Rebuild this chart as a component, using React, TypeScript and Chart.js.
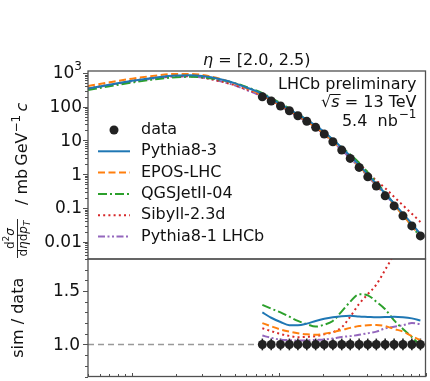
import React, { useEffect, useRef } from 'react';
import { Chart, registerables } from 'chart.js';

Chart.register(...registerables);

const W = 430;
const H = 381;
const FONT = '"DejaVu Sans", sans-serif';

// ---------- data ----------
const dataPt = [0.772, 0.887, 1.027, 1.18, 1.349, 1.551, 1.783, 2.04, 2.336, 2.685, 3.068, 3.528, 4.04, 4.62, 5.31, 6.11, 7.02, 8.07, 9.23];
const dataXsec = [198, 147.5, 105, 76, 54, 36.9, 24.5, 15.5, 9.15, 5.19, 2.94, 1.59, 0.837, 0.444, 0.229, 0.115, 0.0583, 0.0294, 0.01486];
const dataRatio = [1, 1, 1, 1, 1, 1, 1, 1, 1, 1, 1, 1, 1, 1, 1, 1, 1, 1, 1];
const dataRatioErr = [0.055, 0.055, 0.055, 0.055, 0.055, 0.055, 0.055, 0.055, 0.055, 0.055, 0.055, 0.055, 0.055, 0.055, 0.055, 0.055, 0.055, 0.055, 0.055];

const simPt = [0.05, 0.07, 0.1, 0.15, 0.2, 0.25, 0.3, 0.4, 0.5, 0.6, 0.7, 0.772, 0.887, 1.027, 1.18, 1.349, 1.551, 1.783, 2.04, 2.336, 2.685, 3.068, 3.528, 4.04, 4.62, 5.31, 6.11, 7.02, 8.07, 9.23];
const pythia83 = [345, 450, 585, 750, 840, 855, 810, 650, 500, 373, 290, 239.4, 171.5, 118.2, 83.4, 59.2, 41.0, 27.8, 17.9, 10.68, 6.11, 3.47, 1.87, 0.979, 0.518, 0.268, 0.135, 0.0681, 0.0340, 0.0169];
const eposLhc = [414, 531, 679, 855, 941, 941, 875, 670, 490, 355, 270, 221, 160.5, 111.3, 79.1, 55.5, 37.6, 24.8, 15.86, 9.49, 5.48, 3.16, 1.73, 0.919, 0.488, 0.249, 0.123, 0.0607, 0.0295, 0.01437];
const qgsjet = [314, 405, 521, 668, 748, 770, 745, 624, 500, 385, 304, 252.3, 183.1, 126.9, 89.1, 61.3, 40.8, 26.6, 17.1, 10.38, 6.32, 3.83, 2.18, 1.136, 0.578, 0.284, 0.131, 0.0621, 0.0293, 0.0137];
const sibyll = [345, 450, 585, 743, 806, 795, 729, 566, 435, 329, 257, 212.1, 154.3, 107.2, 76.4, 53.7, 36.8, 24.6, 15.78, 9.49, 5.60, 3.44, 2.04, 1.144, 0.644, 0.389, 0.213, 0.1195, 0.0676, 0.0386];
const pythia81 = [338, 437, 562, 713, 790, 795, 737, 572, 430, 315, 242, 199.4, 145.6, 102, 73.5, 52.1, 35.6, 23.7, 15.07, 8.97, 5.16, 2.95, 1.61, 0.860, 0.462, 0.245, 0.125, 0.064, 0.0328, 0.0165];

const pythia83Ratio = [1.30, 1.25, 1.21, 1.18, 1.18, 1.195, 1.22, 1.24, 1.255, 1.265, 1.268, 1.262, 1.258, 1.254, 1.256, 1.26, 1.255, 1.244, 1.225];
const eposLhcRatio = [1.20, 1.17, 1.14, 1.12, 1.105, 1.095, 1.09, 1.10, 1.115, 1.135, 1.155, 1.172, 1.18, 1.182, 1.172, 1.145, 1.12, 1.078, 1.04];
const qgsjetRatio = [1.37, 1.335, 1.30, 1.26, 1.22, 1.19, 1.167, 1.185, 1.22, 1.31, 1.40, 1.47, 1.46, 1.40, 1.33, 1.225, 1.145, 1.07, 0.99];
const sibyllRatio = [1.152, 1.125, 1.098, 1.08, 1.068, 1.072, 1.078, 1.095, 1.115, 1.16, 1.26, 1.38, 1.47, 1.56, 1.70, 1.85, 2.05, 2.3, 2.6];
const pythia81Ratio = [1.083, 1.062, 1.045, 1.04, 1.037, 1.038, 1.042, 1.046, 1.055, 1.07, 1.078, 1.09, 1.105, 1.12, 1.15, 1.165, 1.18, 1.20, 1.19];

const refLineX = [0.05, 10];
const refLineY = [1, 1];

const seriesLabels = ['Pythia8-3', 'EPOS-LHC', 'QGSJetII-04', 'Sibyll-2.3d', 'Pythia8-1 LHCb'];
const dataLabel = 'data';

const yTickValues = [0.01, 0.1, 1, 10, 100, 1000];
const yTickLabels = ['0.01', '0.1', '1', '10', '100', '10^3'];
const ratioTickValues = [1.0, 1.5];
const ratioTickLabels = ['1.0', '1.5'];

// ---------- styles ----------
const seriesColors = ['#1f77b4', '#ff7f0e', '#2ca02c', '#d62728', '#9467bd'];
const seriesDashes: number[][] = [[], [7, 3.5], [9, 3, 2, 3], [2, 3.2], [7, 2.5, 2, 2.5, 2, 2.5]];
const DATA_COLOR = '#222';
const FRAME = '#505050';

const topSeries = [pythia83, eposLhc, qgsjet, sibyll, pythia81];
const ratioSeries = [pythia83Ratio, eposLhcRatio, qgsjetRatio, sibyllRatio, pythia81Ratio];

const pts = (xs: number[], ys: number[]) => xs.map((x, i) => ({ x, y: ys[i] }));

function lineDs(i: number, xs: number[], ys: number[]) {
  return {
    label: seriesLabels[i],
    data: pts(xs, ys),
    borderColor: seriesColors[i],
    backgroundColor: seriesColors[i],
    borderDash: seriesDashes[i],
    borderWidth: 2,
    pointRadius: 0,
    fill: false,
    cubicInterpolationMode: 'monotone' as const,
  };
}

function line(ctx: CanvasRenderingContext2D, x1: number, y1: number, x2: number, y2: number) {
  ctx.beginPath();
  ctx.moveTo(x1, y1);
  ctx.lineTo(x2, y2);
  ctx.stroke();
}

function drawFrame(ctx: CanvasRenderingContext2D, a: any) {
  ctx.save();
  ctx.setLineDash([]);
  ctx.strokeStyle = FRAME;
  ctx.lineWidth = 1.3;
  ctx.strokeRect(a.left, a.top, a.right - a.left, a.bottom - a.top);
  ctx.restore();
}

const topDecor = {
  id: 'topDecor',
  afterDraw(chart: any) {
    const { ctx, chartArea: a, scales } = chart;
    const ys = scales.y;
    ctx.save();
    drawFrame(ctx, a);
    // y ticks
    ctx.strokeStyle = FRAME;
    ctx.lineWidth = 1;
    for (let e = -3; e <= 3; e++) {
      for (let m = 1; m <= 9; m++) {
        const v = m * Math.pow(10, e);
        if (v < ys.min || v > ys.max) continue;
        const py = Math.round(ys.getPixelForValue(v)) + 0.5;
        const len = m === 1 ? 5 : 3;
        line(ctx, a.left - len, py, a.left, py);
      }
    }
    // y tick labels
    ctx.fillStyle = '#111';
    ctx.textBaseline = 'middle';
    ctx.textAlign = 'right';
    const rx = a.left - 6;
    yTickValues.forEach((v, i) => {
      const py = ys.getPixelForValue(v);
      const lab = yTickLabels[i];
      if (lab.includes('^')) {
        const [b, s] = lab.split('^');
        ctx.font = `12px ${FONT}`;
        const ws = ctx.measureText(s).width;
        ctx.fillText(s, rx, py - 6);
        ctx.font = `17px ${FONT}`;
        ctx.fillText(b, rx - ws, py + 1);
      } else {
        ctx.font = `17px ${FONT}`;
        ctx.fillText(lab, rx, py + 1);
      }
    });

    // title
    ctx.textAlign = 'left';
    ctx.textBaseline = 'alphabetic';
    {
      const base = 65;
      ctx.font = `italic 16px ${FONT}`;
      const w1 = ctx.measureText('η').width;
      ctx.font = `16px ${FONT}`;
      const rest = ' = [2.0, 2.5)';
      const w2 = ctx.measureText(rest).width;
      let x = (a.left + a.right) / 2 - (w1 + w2) / 2;
      ctx.font = `italic 16px ${FONT}`;
      ctx.fillText('η', x, base);
      x += w1;
      ctx.font = `16px ${FONT}`;
      ctx.fillText(rest, x, base);
    }

    // annotations (right aligned)
    const RX = a.right - 9;
    ctx.font = `16px ${FONT}`;
    ctx.textAlign = 'right';
    ctx.fillText('LHCb preliminary', RX, 88.5);
    {
      const base = 107;
      ctx.font = `16px ${FONT}`;
      const rest = ' = 13 TeV';
      const w3 = ctx.measureText(rest).width;
      ctx.font = `italic 16px ${FONT}`;
      const w2 = ctx.measureText('s').width;
      ctx.font = `16px ${FONT}`;
      const w1 = ctx.measureText('√').width;
      ctx.textAlign = 'left';
      let x = RX - w3 - w2 - w1;
      ctx.fillText('√', x, base);
      const sx = x + w1;
      ctx.font = `italic 16px ${FONT}`;
      ctx.fillText('s', sx, base);
      ctx.font = `16px ${FONT}`;
      ctx.fillText(rest, sx + w2, base);
      ctx.strokeStyle = '#111';
      ctx.lineWidth = 1;
      line(ctx, sx - 1, base - 12.5, sx + w2 + 1, base - 12.5);
    }
    {
      const base = 126;
      ctx.font = `12px ${FONT}`;
      const sup = '−1';
      const ws = ctx.measureText(sup).width;
      ctx.textAlign = 'right';
      ctx.fillText(sup, RX, base - 8);
      ctx.font = `16px ${FONT}`;
      ctx.fillText('5.4  nb', RX - ws - 1, base);
    }

    // legend
    const lx1 = 98, lx2 = 130, tx = 141;
    const rows = [130, 151.3, 172.6, 193.9, 215.2, 236.5];
    ctx.textAlign = 'left';
    ctx.textBaseline = 'middle';
    ctx.font = `16px ${FONT}`;
    ctx.fillStyle = DATA_COLOR;
    ctx.beginPath();
    ctx.arc((lx1 + lx2) / 2, rows[0], 4.5, 0, Math.PI * 2);
    ctx.fill();
    ctx.fillStyle = '#111';
    ctx.fillText(dataLabel, tx, rows[0]);
    seriesLabels.forEach((lab, i) => {
      const yy = rows[i + 1];
      ctx.save();
      ctx.strokeStyle = seriesColors[i];
      ctx.lineWidth = 2;
      ctx.setLineDash(seriesDashes[i]);
      line(ctx, lx1, yy, lx2, yy);
      ctx.restore();
      ctx.fillStyle = '#111';
      ctx.fillText(lab, tx, yy);
    });

    // y axis title (rotated)
    ctx.save();
    ctx.translate(27, 258);
    ctx.rotate(-Math.PI / 2);
    ctx.fillStyle = '#111';
    ctx.textAlign = 'left';
    ctx.textBaseline = 'alphabetic';
    const fs = 12;
    const piece = (t: string, it: boolean, size: number) => {
      ctx.font = `${it ? 'italic ' : ''}${size}px ${FONT}`;
      return ctx.measureText(t).width;
    };
    const denParts: [string, boolean, number, number][] = [['d', false, fs, 0], ['η', true, fs, 0], ['d', false, fs, 0], ['p', true, fs, 0], ['T', true, 9, 3]];
    const numParts: [string, boolean, number, number][] = [['d', false, fs, 0], ['2', false, 9, -5], ['σ', true, fs, 0]];
    const wDen = denParts.reduce((s, p) => s + piece(p[0], p[1], p[2]), 0);
    const wNum = numParts.reduce((s, p) => s + piece(p[0], p[1], p[2]), 0);
    const wFr = Math.max(wDen, wNum) + 3;
    const drawParts = (parts: [string, boolean, number, number][], x0: number, base: number) => {
      let x = x0;
      parts.forEach((p) => {
        const w = piece(p[0], p[1], p[2]);
        ctx.fillText(p[0], x, base + p[3]);
        x += w;
      });
    };
    drawParts(denParts, (wFr - wDen) / 2, 0);
    drawParts(numParts, (wFr - wNum) / 2, -13);
    ctx.lineWidth = 0.9;
    ctx.strokeStyle = '#111';
    line(ctx, 0, -9.5, wFr, -9.5);
    let x = wFr + 14;
    const mainParts: [string, boolean, number, number][] = [['/ mb', false, 16, 0], ['\u2009GeV', false, 16, 0], ['−1', false, 12, -7], ['\u2009', false, 16, 0], ['c', true, 16, 0]];
    mainParts.forEach((p) => {
      const w = piece(p[0], p[1], p[2]);
      ctx.fillText(p[0], x, p[3]);
      x += w;
    });
    ctx.restore();

    ctx.restore();
  },
};

const bottomDecor = {
  id: 'bottomDecor',
  beforeDatasetsDraw(chart: any) {
    const { ctx, scales } = chart;
    const xs = scales.x, ys = scales.y;
    ctx.save();
    ctx.strokeStyle = DATA_COLOR;
    ctx.lineWidth = 1.6;
    dataPt.forEach((p, i) => {
      const px = xs.getPixelForValue(p);
      line(ctx, px, ys.getPixelForValue(dataRatio[i] - dataRatioErr[i]), px, ys.getPixelForValue(dataRatio[i] + dataRatioErr[i]));
    });
    ctx.restore();
  },
  afterDraw(chart: any) {
    const { ctx, chartArea: a, scales } = chart;
    const xs = scales.x, ys = scales.y;
    ctx.save();
    drawFrame(ctx, a);
    ctx.strokeStyle = FRAME;
    ctx.lineWidth = 1;
    for (let k = 7; k <= 18; k++) {
      const v = k / 10;
      const py = Math.round(ys.getPixelForValue(v)) + 0.5;
      const major = k === 10 || k === 15;
      line(ctx, a.left - (major ? 5 : 3), py, a.left, py);
    }
    for (let e = -2; e <= 1; e++) {
      for (let m = 1; m <= 9; m++) {
        const v = m * Math.pow(10, e);
        if (v < xs.min * 0.999 || v > xs.max * 1.001) continue;
        const px = Math.round(xs.getPixelForValue(v)) + 0.5;
        const len = m === 1 ? 3.5 : 2.5;
        line(ctx, px, a.bottom, px, a.bottom - len);
      }
    }
    ctx.fillStyle = '#111';
    ctx.font = `17px ${FONT}`;
    ctx.textAlign = 'right';
    ctx.textBaseline = 'middle';
    ratioTickValues.forEach((v, i) => {
      ctx.fillText(ratioTickLabels[i], a.left - 8, ys.getPixelForValue(v) + 1);
    });
    ctx.save();
    ctx.translate(23, (a.top + a.bottom) / 2);
    ctx.rotate(-Math.PI / 2);
    ctx.textAlign = 'center';
    ctx.textBaseline = 'alphabetic';
    ctx.font = `16px ${FONT}`;
    ctx.fillText('sim / data', 0, 0);
    ctx.restore();
    ctx.restore();
  },
};

export default function App() {
  const topRef = useRef<HTMLCanvasElement>(null);
  const botRef = useRef<HTMLCanvasElement>(null);

  useEffect(() => {
    const common = {
      responsive: false,
      animation: false as const,
      events: [] as any[],
      plugins: { legend: { display: false }, tooltip: { enabled: false }, title: { display: false } },
    };

    const top = new Chart(topRef.current!, {
      type: 'line',
      data: {
        datasets: [
          {
            label: dataLabel,
            data: pts(dataPt, dataXsec),
            showLine: false,
            pointRadius: 4.5,
            pointBackgroundColor: DATA_COLOR,
            pointBorderWidth: 0,
            borderColor: DATA_COLOR,
            clip: false as any,
          } as any,
          ...topSeries.map((s, i) => lineDs(i, simPt, s)),
        ],
      },
      options: {
        ...common,
        layout: { padding: { left: 88, right: 2, top: 71, bottom: H - 259 } },
        scales: {
          x: { type: 'logarithmic', min: 0.05, max: 10, display: false },
          y: { type: 'logarithmic', min: 0.00307, max: 1146, display: false },
        },
      } as any,
      plugins: [topDecor],
    });

    const bot = new Chart(botRef.current!, {
      type: 'line',
      data: {
        datasets: [
          {
            label: dataLabel,
            data: pts(dataPt, dataRatio),
            showLine: false,
            pointRadius: 4.5,
            pointBackgroundColor: DATA_COLOR,
            pointBorderWidth: 0,
            borderColor: DATA_COLOR,
            clip: false as any,
          } as any,
          ...ratioSeries.map((s, i) => lineDs(i, dataPt, s)),
          {
            label: 'ref',
            data: pts(refLineX, refLineY),
            borderColor: '#999',
            borderWidth: 1.5,
            borderDash: [6, 4],
            pointRadius: 0,
          },
        ],
      },
      options: {
        ...common,
        layout: { padding: { left: 88, right: 2, top: 259, bottom: 2 } },
        scales: {
          x: { type: 'logarithmic', min: 0.05, max: 10, display: false },
          y: { type: 'linear', min: 0.7, max: 1.8, display: false },
        },
      } as any,
      plugins: [bottomDecor],
    });

    return () => {
      top.destroy();
      bot.destroy();
    };
  }, []);

  return (
    <div style={{ position: 'fixed', left: 0, top: 0, width: W, height: H, background: '#fff' }}>
      <canvas ref={topRef} width={W} height={H} style={{ position: 'absolute', left: 0, top: 0 }} />
      <canvas ref={botRef} width={W} height={H} style={{ position: 'absolute', left: 0, top: 0 }} />
    </div>
  );
}
